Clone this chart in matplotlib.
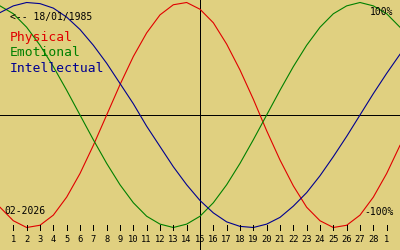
import matplotlib
matplotlib.use('Agg')
from matplotlib import pyplot as plt

birth = '18/01/1985'
month = '02-2026'
day_labels = [str(d) for d in range(1, 29)] + ['1']

# daily values, days 0..30 (day 1 = 1st of month)
days = list(range(0, 31))
physical = [-0.82, -0.94, -1.00, -0.98, -0.89, -0.73, -0.52, -0.27, 0.00, 0.27,
            0.52, 0.73, 0.89, 0.98, 1.00, 0.94, 0.82, 0.63, 0.40, 0.14,
            -0.14, -0.40, -0.63, -0.82, -0.94, -1.00, -0.98, -0.89, -0.73, -0.52, -0.27]
emotional = [0.97, 0.90, 0.78, 0.62, 0.43, 0.22, 0.00, -0.22, -0.43, -0.62,
             -0.78, -0.90, -0.97, -1.00, -0.97, -0.90, -0.78, -0.62, -0.43, -0.22,
             0.00, 0.22, 0.43, 0.62, 0.78, 0.90, 0.97, 1.00, 0.97, 0.90, 0.78]
intellectual = [0.91, 0.97, 1.00, 0.99, 0.95, 0.87, 0.76, 0.62, 0.46, 0.28,
                0.10, -0.10, -0.28, -0.46, -0.62, -0.76, -0.87, -0.95, -0.99, -1.00,
                -0.97, -0.91, -0.81, -0.69, -0.54, -0.37, -0.19, 0.00, 0.19, 0.37, 0.54]

names = ['Physical', 'Emotional', 'Intellectual']
colors = ['#e00000', '#008000', '#000090']
bg = '#e0d080'

plt.rcParams['font.family'] = 'DejaVu Sans Mono'

fig = plt.figure(figsize=(4, 2.5), dpi=100, facecolor=bg)
ax = fig.add_axes([0, 0, 1, 1], facecolor=bg)
ax.set_xlim(0, 30)
ax.set_ylim(-1.2, 1.0222)
ax.axis('off')

ax.axhline(0, color='black', lw=0.6, antialiased=False)
ax.axvline(15, color='black', lw=0.6, antialiased=False)

for ys, c in zip([physical, emotional, intellectual], colors):
    ax.plot(days, ys, color=c, lw=0.8)

tr = ax.get_xaxis_transform()
for i, lab in enumerate(day_labels):
    x = i + 1
    ax.plot([x, x], [0.08, 0.1], color='black', lw=0.6, transform=tr, antialiased=False)
    ax.text(x, 0.044, lab, transform=tr, ha='center', va='center', fontsize=6.3)

ax.text(0.025, 0.932, '<-- ' + birth, transform=ax.transAxes, fontsize=7,
        ha='left', va='center')
for i, (n, c) in enumerate(zip(names, colors)):
    ax.text(0.025, 0.85 - i * 0.062, n, transform=ax.transAxes, fontsize=9.4,
            color=c, ha='left', va='center')
ax.text(0.983, 0.952, '100%', transform=ax.transAxes, fontsize=7, ha='right', va='center')
ax.text(0.983, 0.152, '-100%', transform=ax.transAxes, fontsize=7, ha='right', va='center')
ax.text(0.012, 0.156, month, transform=ax.transAxes, fontsize=7, ha='left', va='center')

fig.savefig('out.png', dpi=100, facecolor=bg)
